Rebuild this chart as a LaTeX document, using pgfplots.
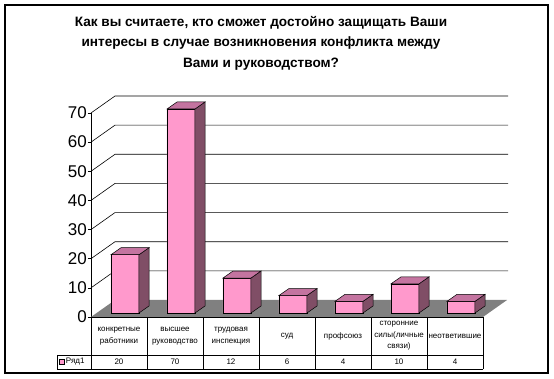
\documentclass[border=0pt]{standalone}
\usepackage{pgfplots}
\pgfplotsset{compat=1.18}
\usepackage{fontspec}
\setmainfont{Liberation Sans}
\definecolor{barpink}{RGB}{255,153,204}
\definecolor{bartop}{RGB}{196,116,160}
\definecolor{barside}{RGB}{128,78,102}
\definecolor{floorgray}{RGB}{128,128,128}
\begin{document}
\begin{tikzpicture}
\begin{axis}[
  scale only axis, width=392pt, height=204pt,
  xmin=-0.5, xmax=6.5, ymin=0, ymax=70,
  clip=false,
  axis x line=none, axis y line=left,
  axis line style={-, black, line width=0.6pt},
  ytick={0,10,...,70},
  major tick length=3pt, tick align=outside,
  tick style={black, line width=0.6pt},
  yticklabel style={font=\fontsize{17}{17}\selectfont, inner sep=1pt},
  /pgf/number format/assume math mode=true,
]
% bounding box and frame
\path (axis cs:-2.125,-21.27) rectangle (axis cs:7.768,108.77);
\draw[line width=1.5pt] (axis cs:-2.036,-19.22) rectangle (axis cs:7.661,107.06);
% title
\node[align=center, font=\bfseries\fontsize{13.6}{20.5}\selectfont] at (axis cs:2.536,94.0)
  {Как вы считаете, кто сможет достойно защищать Ваши\\интересы в случае возникновения конфликта между\\Вами и руководством?};
% floor
\addplot[fill=floorgray, draw=none] coordinates {(-0.5,0) (6.5,0) (6.93,5.83) (-0.071,5.83)} --cycle;
% wall grid lines
\addplot[black, line width=0.6pt] coordinates {(-0.5,10) (-0.071,15.83) (6.95,15.83)};
\addplot[black, line width=0.6pt] coordinates {(-0.5,20) (-0.071,25.83) (6.95,25.83)};
\addplot[black, line width=0.6pt] coordinates {(-0.5,30) (-0.071,35.83) (6.95,35.83)};
\addplot[black, line width=0.6pt] coordinates {(-0.5,40) (-0.071,45.83) (6.95,45.83)};
\addplot[black, line width=0.6pt] coordinates {(-0.5,50) (-0.071,55.83) (6.95,55.83)};
\addplot[black, line width=0.6pt] coordinates {(-0.5,60) (-0.071,65.83) (6.95,65.83)};
\addplot[black, line width=0.6pt] coordinates {(-0.5,70) (-0.071,75.83) (6.95,75.83)};
% front faces
\addplot[ybar, bar width=28pt, bar shift=6pt, yshift=4pt, fill=barpink, draw=black, line width=0.5pt]
  coordinates {(0,20) (1,70) (2,12) (3,6) (4,4) (5,10) (6,4)};
% side faces
\addplot[fill=barside, draw=black, line width=0.5pt] coordinates {(0.357,1.37) (0.536,3.77) (0.536,23.77) (0.357,21.37)} --cycle;
\addplot[fill=barside, draw=black, line width=0.5pt] coordinates {(1.357,1.37) (1.536,3.77) (1.536,73.77) (1.357,71.37)} --cycle;
\addplot[fill=barside, draw=black, line width=0.5pt] coordinates {(2.357,1.37) (2.536,3.77) (2.536,15.77) (2.357,13.37)} --cycle;
\addplot[fill=barside, draw=black, line width=0.5pt] coordinates {(3.357,1.37) (3.536,3.77) (3.536,9.77) (3.357,7.37)} --cycle;
\addplot[fill=barside, draw=black, line width=0.5pt] coordinates {(4.357,1.37) (4.536,3.77) (4.536,7.77) (4.357,5.37)} --cycle;
\addplot[fill=barside, draw=black, line width=0.5pt] coordinates {(5.357,1.37) (5.536,3.77) (5.536,13.77) (5.357,11.37)} --cycle;
\addplot[fill=barside, draw=black, line width=0.5pt] coordinates {(6.357,1.37) (6.536,3.77) (6.536,7.77) (6.357,5.37)} --cycle;
% top faces
\addplot[fill=bartop, draw=black, line width=0.5pt] coordinates {(-0.143,21.37) (0.357,21.37) (0.536,23.77) (0.036,23.77)} --cycle;
\addplot[fill=bartop, draw=black, line width=0.5pt] coordinates {(0.857,71.37) (1.357,71.37) (1.536,73.77) (1.036,73.77)} --cycle;
\addplot[fill=bartop, draw=black, line width=0.5pt] coordinates {(1.857,13.37) (2.357,13.37) (2.536,15.77) (2.036,15.77)} --cycle;
\addplot[fill=bartop, draw=black, line width=0.5pt] coordinates {(2.857,7.37) (3.357,7.37) (3.536,9.77) (3.036,9.77)} --cycle;
\addplot[fill=bartop, draw=black, line width=0.5pt] coordinates {(3.857,5.37) (4.357,5.37) (4.536,7.77) (4.036,7.77)} --cycle;
\addplot[fill=bartop, draw=black, line width=0.5pt] coordinates {(4.857,11.37) (5.357,11.37) (5.536,13.77) (5.036,13.77)} --cycle;
\addplot[fill=bartop, draw=black, line width=0.5pt] coordinates {(5.857,5.37) (6.357,5.37) (6.536,7.77) (6.036,7.77)} --cycle;
% data table lines
\draw[line width=0.6pt] (axis cs:-0.5,0) -- (axis cs:6.5,0);
\draw[line width=0.6pt] (axis cs:-1.107,-13.04) -- (axis cs:6.5,-13.04);
\draw[line width=0.6pt] (axis cs:-1.107,-17.84) -- (axis cs:6.5,-17.84);
\draw[line width=0.6pt] (axis cs:-1.107,-13.04) -- (axis cs:-1.107,-17.84);
\pgfplotsinvokeforeach{-0.5,0.5,1.5,2.5,3.5,4.5,5.5,6.5}{
  \draw[line width=0.6pt] (axis cs:#1,0) -- (axis cs:#1,-17.84);
}
% legend key
\draw[fill=barpink, line width=0.4pt] (axis cs:-1.071,-14.6) rectangle (axis cs:-0.982,-16.3);
% category names
\node[align=center, font=\fontsize{8}{11.5}\selectfont, inner sep=0pt] at (axis cs:0,-6.52) {конкретные\\работники};
\node[align=center, font=\fontsize{8}{11.5}\selectfont, inner sep=0pt] at (axis cs:1,-6.52) {высшее\\руководство};
\node[align=center, font=\fontsize{8}{11.5}\selectfont, inner sep=0pt] at (axis cs:2,-6.52) {трудовая\\инспекция};
\node[align=center, font=\fontsize{8}{11.5}\selectfont, inner sep=0pt] at (axis cs:3,-6.52) {суд};
\node[align=center, font=\fontsize{8}{11.5}\selectfont, inner sep=0pt] at (axis cs:4,-6.52) {профсоюз};
\node[align=center, font=\fontsize{8}{11.5}\selectfont, inner sep=0pt] at (axis cs:5,-6.52) {сторонние\\силы(личные\\связи)};
\node[align=center, font=\fontsize{8}{11.5}\selectfont, inner sep=0pt] at (axis cs:6,-6.52) {неответившие};
\node[font=\fontsize{8}{10}\selectfont, inner sep=0pt] at (axis cs:0,-15.44) {20};
\node[font=\fontsize{8}{10}\selectfont, inner sep=0pt] at (axis cs:1,-15.44) {70};
\node[font=\fontsize{8}{10}\selectfont, inner sep=0pt] at (axis cs:2,-15.44) {12};
\node[font=\fontsize{8}{10}\selectfont, inner sep=0pt] at (axis cs:3,-15.44) {6};
\node[font=\fontsize{8}{10}\selectfont, inner sep=0pt] at (axis cs:4,-15.44) {4};
\node[font=\fontsize{8}{10}\selectfont, inner sep=0pt] at (axis cs:5,-15.44) {10};
\node[font=\fontsize{8}{10}\selectfont, inner sep=0pt] at (axis cs:6,-15.44) {4};
\node[anchor=west, font=\fontsize{8}{10}\selectfont, inner sep=0pt] at (axis cs:-0.95,-15.44) {Ряд1};
\end{axis}
\end{tikzpicture}
\end{document}
